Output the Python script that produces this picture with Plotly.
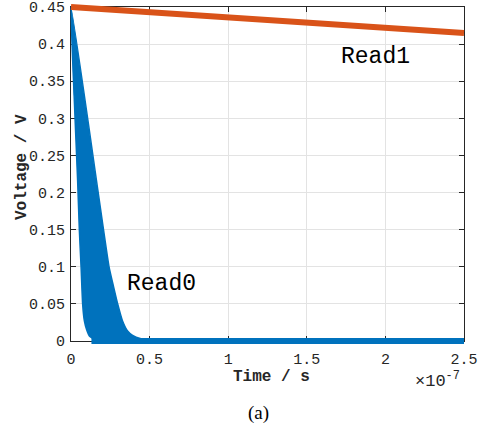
import plotly.graph_objects as go

# ---------------- data (time in units of 1e-7 s, voltage in V) ----------------
read1_t = [0.0, 0.5, 1.0, 1.5, 2.0, 2.5]
read1_v = [0.450, 0.443, 0.436, 0.429, 0.422, 0.415]

# fastest Read0 discharge (left edge of the band)
read0_fast_t = [0.0, 0.020, 0.042, 0.053, 0.064, 0.074, 0.085, 0.100, 0.120, 0.160, 0.180]
read0_fast_v = [0.450, 0.330, 0.217, 0.150, 0.100, 0.050, 0.027, 0.015, 0.006, 0.001, 0.0]
# slowest Read0 discharge (right edge of the band)
read0_slow_t = [0.0, 0.173, 0.242, 0.271, 0.297, 0.328, 0.360, 0.392, 0.445, 0.520]
read0_slow_v = [0.450, 0.200, 0.100, 0.073, 0.050, 0.027, 0.0135, 0.0075, 0.003, 0.0]
# settled Read0 level
read0_floor_t = [0.13, 2.5]
read0_floor_v = [0.0, 0.0]

x_ticks = [0, 0.5, 1, 1.5, 2, 2.5]
x_ticktext = ["0", "0.5", "1", "1.5", "2", "2.5"]
y_ticks = [0, 0.05, 0.1, 0.15, 0.2, 0.25, 0.3, 0.35, 0.4, 0.45]
y_ticktext = ["0", "0.05", "0.1", "0.15", "0.2", "0.25", "0.3", "0.35", "0.4", "0.45"]

# ---------------- layout geometry ----------------
W, H = 488, 430
L, R, T, B = 71, 464, 7, 341          # plot-box pixel edges
XMAX, YMAX = 2.5, 0.45
PADL, PADR, PADT, PADB = 10, 10, 7, 10  # extra room so thick lines are not clipped

sx = (R - L) / XMAX
sy = (B - T) / YMAX

BLUE = "#0072BD"
ORANGE = "#D95319"
AX = "#262626"
MONO = "Liberation Mono"

fig = go.Figure()

# band of Read0 curves
fig.add_trace(go.Scatter(
    x=read0_fast_t + read0_slow_t[::-1],
    y=read0_fast_v + read0_slow_v[::-1],
    mode="lines", fill="toself", fillcolor=BLUE,
    line=dict(color=BLUE, width=1.5, shape="spline", smoothing=0.4),
    xaxis="x2", yaxis="y2", hoverinfo="skip", showlegend=False))
fig.add_trace(go.Scatter(
    x=read0_floor_t, y=read0_floor_v, mode="lines",
    line=dict(color=BLUE, width=6),
    xaxis="x2", yaxis="y2", showlegend=False))
fig.add_trace(go.Scatter(
    x=read1_t, y=read1_v, mode="lines",
    line=dict(color=ORANGE, width=6),
    xaxis="x2", yaxis="y2", showlegend=False))

# invisible trace to hold the main axes
fig.add_trace(go.Scatter(x=[0], y=[0], mode="markers", marker=dict(opacity=0),
                         showlegend=False, hoverinfo="skip"))

axis_common = dict(showline=True, linecolor=AX, linewidth=1, mirror="ticks",
                   ticks="inside", ticklen=5, tickcolor=AX, automargin=False,
                   showgrid=True, gridcolor="#E3E3E3", gridwidth=1,
                   zeroline=False, tickfont=dict(family=MONO, size=15, color=AX))

fig.update_layout(
    width=W, height=H, autosize=False,
    margin=dict(l=0, r=0, t=0, b=0, pad=0, autoexpand=False),
    paper_bgcolor="white", plot_bgcolor="rgba(0,0,0,0)",
    showlegend=False,
    xaxis=dict(domain=[L / W, R / W], range=[0, XMAX],
               tickvals=x_ticks, ticktext=x_ticktext, anchor="y",
               ticklabelstandoff=4, **axis_common),
    yaxis=dict(domain=[(H - B) / H, (H - T) / H], range=[0, YMAX],
               tickvals=y_ticks, ticktext=y_ticktext, anchor="x",
               ticklabelstandoff=2, **axis_common),
    xaxis2=dict(domain=[(L - PADL) / W, (R + PADR) / W],
                range=[-PADL / sx, XMAX + PADR / sx], anchor="y2",
                visible=False, fixedrange=True, automargin=False),
    yaxis2=dict(domain=[(H - B - PADB) / H, (H - T + PADT) / H],
                range=[-PADB / sy, YMAX + PADT / sy], anchor="x2",
                visible=False, fixedrange=True, automargin=False),
)

ann = [
    dict(text="Voltage / V", x=22 / W, y=(H - 167) / H, textangle=-90,
         font=dict(family=MONO, size=16, color=AX, weight="bold")),
    dict(text="Time / s", x=271 / W, y=(H - 377) / H,
         font=dict(family=MONO, size=16, color=AX, weight="bold")),
    dict(text="\u00d710<sup>-7</sup>", x=437 / W, y=(H - 380) / H,
         font=dict(family=MONO, size=17, color=AX)),
    dict(text="(a)", x=258 / W, y=(H - 413) / H,
         font=dict(family="Liberation Serif", size=19, color="black")),
]
for a in ann:
    fig.add_annotation(xref="paper", yref="paper", showarrow=False,
                       xanchor="center", yanchor="middle", **a)

fig.add_annotation(text="Read1", x=1.934, y=0.3826, xref="x", yref="y",
                   showarrow=False, font=dict(family=MONO, size=23, color="black"))
fig.add_annotation(text="Read0", x=0.5725, y=0.0768, xref="x", yref="y",
                   showarrow=False, font=dict(family=MONO, size=23, color="black"))

fig.write_html("out.html", config={"responsive": False})
